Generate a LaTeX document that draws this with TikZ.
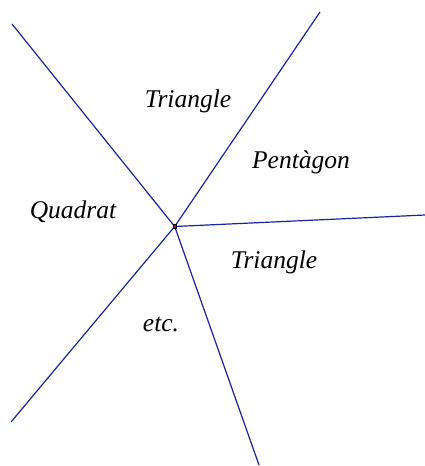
\documentclass[tikz,border=0pt]{standalone}
\usepackage{fontspec}
\setmainfont{Liberation Serif}
\begin{document}
\begin{tikzpicture}[x=1pt,y=-1pt,
  ray/.style={draw={rgb,255:red,25;green,35;blue,160},line width=1.2pt},
  lab/.style={font=\itshape\fontsize{25.5}{27}\selectfont,inner sep=0pt}]
\useasboundingbox (0,0) rectangle (425,466);
\coordinate (o) at (174.7,226.5);
\coordinate (a) at (12,24);
\coordinate (b) at (320,12);
\coordinate (c) at (425,215);
\coordinate (d) at (259,465);
\coordinate (e) at (11,422);
\foreach \p in {a,b,c,d,e} \draw[ray] (o) -- (\p);
\node[draw=black,fill=red!80!black,minimum size=3.5pt,inner sep=0pt,line width=0.6pt] (dot) at (o) {};
\node[lab] (t1) at (188,101) {Triangle};
\node[lab] (p) at (301,162) {Pentàgon};
\node[lab] (q) at (73,212) {Quadrat};
\node[lab] (t2) at (274,262) {Triangle};
\node[lab] (etc) at (161,324) {etc.};
\end{tikzpicture}
\end{document}
